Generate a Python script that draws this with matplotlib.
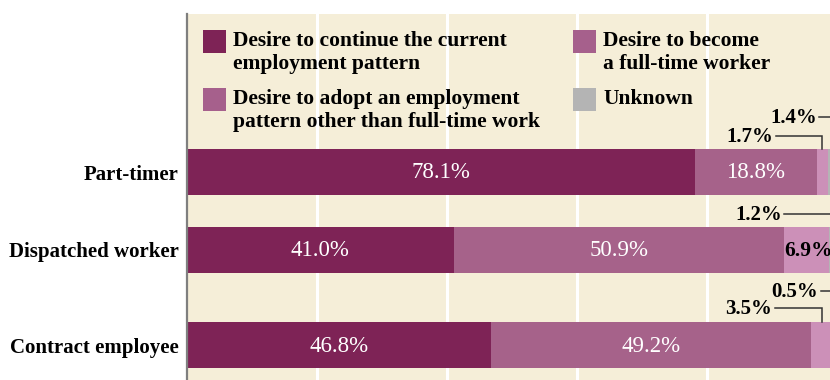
import matplotlib
matplotlib.use("Agg")
import matplotlib.pyplot as plt
from matplotlib.patches import Rectangle
import numpy as np

plt.rcParams.update({
    "font.family": "Liberation Serif",
    "font.size": 13,
})

# employment type categories and survey shares (%)
categories = ["Part-timer", "Dispatched worker", "Contract employee"]
series = [
    "Desire to continue the current\nemployment pattern",
    "Desire to become\na full-time worker",
    "Desire to adopt an employment\npattern other than full-time work",
    "Unknown",
]
continue_pct = [78.1, 41.0, 46.8]
fulltime_pct = [18.8, 50.9, 49.2]
other_pct = [1.7, 6.9, 3.5]
unknown_pct = [1.4, 1.2, 0.5]

bar_colors = ["#7E2356", "#A6628A", "#CC90B8", "#B4B4B4"]
legend_colors = ["#7E2356", "#A6608C", "#A6608C", "#B4B4B4"]

W, H = 830, 380
fig = plt.figure(figsize=(W / 100, H / 100), dpi=100)
# axis starts at x=187px; 100% would sit just past the right edge
ax = fig.add_axes([187 / W, 0, (W - 187) / W, (H - 14) / H])
ax.set_facecolor("#F5EED8")
ax.set_xlim(0, (W - 187) / 6.5)
ax.set_ylim(H, 14)  # vertical units are pixel rows from the top

for g in [20, 40, 60, 80]:
    ax.axvline(g, color="white", lw=2.2, zorder=1)

ypos = [172, 250, 345]
bh = 46
data = np.array([continue_pct, fulltime_pct, other_pct, unknown_pct])
lefts = np.zeros(len(categories))
for k in range(len(data)):
    ax.barh(ypos, data[k], left=lefts, height=bh, color=bar_colors[k],
            zorder=2, linewidth=0)
    lefts += data[k]
starts = np.vstack([np.zeros(3), np.cumsum(data, axis=0)[:-1]])
centers = starts + data / 2

# white value labels on the two big segments
for k in (0, 1):
    for i in range(len(categories)):
        ax.text(centers[k, i], ypos[i] + 1, f"{data[k, i]:.1f}%", color="white",
                ha="center", va="center", fontsize=16.5, zorder=3)
# dispatched "other" segment is wide enough for its own label
ax.text(centers[2, 1] + 0.2, ypos[1] + 1, f"{data[2, 1]:.1f}%", color="black",
        ha="center", va="center", fontsize=15.5, fontweight="bold", zorder=3)

# leader-line labels: (series idx, category idx, text right edge %, line y)
leaders = [
    (3, 0, 96.9, 117),
    (2, 0, 90.2, 136),
    (3, 1, 91.5, 214),
    (3, 2, 97.1, 291),
    (2, 2, 90.0, 308),
]
for k, i, xr, ly in leaders:
    ax.text(xr, ly + 1, f"{data[k, i]:.1f}%", ha="right", va="center",
            fontsize=15, fontweight="bold", zorder=3)
    cx = centers[k, i]
    ax.plot([xr + 0.4, cx, cx], [ly, ly, ypos[i] - bh / 2],
            color="#333333", lw=1.1, zorder=3, solid_joinstyle="miter")

ax.set_yticks(ypos)
ax.set_yticklabels(categories, fontsize=15, fontweight="bold")
ax.tick_params(axis="y", length=0, pad=6)
ax.set_xticks([])
for s in ["top", "right", "bottom"]:
    ax.spines[s].set_visible(False)
ax.spines["left"].set_color("#7F7F7F")
ax.spines["left"].set_linewidth(1.6)

# legend drawn by hand in two columns
legend_slots = [(203, 30), (573, 30), (203, 88), (573, 88)]
for (px, py), lab, col in zip(legend_slots, series, legend_colors):
    fig.add_artist(Rectangle((px / W, 1 - (py + 23) / H), 23 / W, 23 / H,
                             transform=fig.transFigure, color=col, lw=0))
    fig.text((px + 30) / W, 1 - (py + 1) / H, lab, ha="left", va="top",
             fontsize=15.5, fontweight="bold", linespacing=1.2)

fig.savefig("out.png", dpi=100, facecolor="white")
